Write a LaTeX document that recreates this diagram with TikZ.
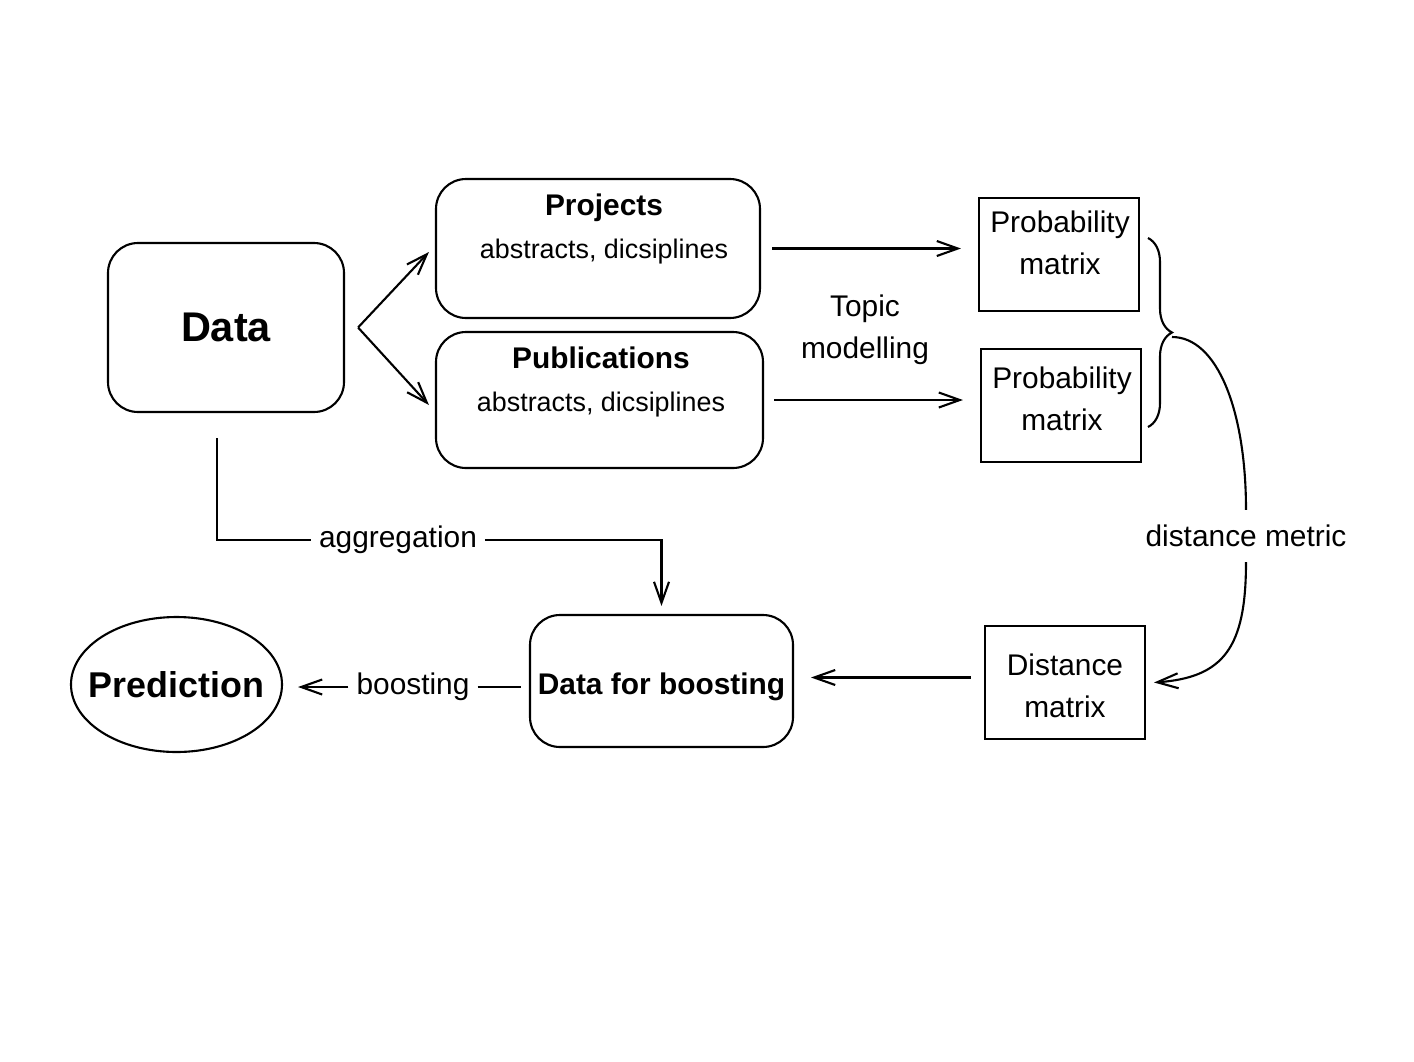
\documentclass[tikz,border=0pt]{standalone}
\usepackage{fontspec}
\setmainfont{Liberation Sans}
\usetikzlibrary{positioning,arrows.meta,decorations.pathreplacing,shapes.geometric}

\newcommand\basefont{\fontsize{17}{24}\selectfont}
\newcommand\subfont{\fontsize{15.3}{24}\selectfont}

\begin{document}
\begin{tikzpicture}[x=2cm, y=2cm, >={Straight Barb[length=0.42cm,width=0.3cm]},
  line width=1.2pt, font=\basefont,
  rbox/.style={draw, rounded corners=0.6cm},
  sbox/.style={draw, minimum width=3.2cm, minimum height=2.26cm},
  lbl/.style={inner xsep=4pt, inner ysep=1pt}]
\useasboundingbox (0,0) rectangle (14.14,-10.62);

% Input data and the two sources
\node[rbox, minimum width=4.72cm, minimum height=3.38cm, font=\fontsize{23.6}{28}\selectfont\bfseries] (data) at (2.26,-3.275) {Data};
\node[rbox, minimum width=6.48cm, minimum height=2.78cm] (proj) at (5.98,-2.485) {};
\node[align=center] (projtxt) at (6.04,-2.29) {\textbf{Projects}\\{\subfont abstracts, dicsiplines}};
\node[rbox, minimum width=6.54cm, minimum height=2.72cm] (pub) at (5.995,-4.0) {};
\node[align=center] (pubtxt) at (6.01,-3.82) {\textbf{Publications}\\{\subfont abstracts, dicsiplines}};

\coordinate (split) at ([xshift=0.26cm]data.east);
\draw[->] (split) -- ([xshift=-0.12cm,yshift=-0.07cm]proj.west);
\draw[->] (split) -- ([xshift=-0.12cm,yshift=-0.1cm]pub.west);

% Topic modelling
\node[sbox] (prob1) at (10.59,-2.545) {};
\node[align=center] (prob1txt) at (10.6,-2.43) {Probability\\matrix};
\node[sbox] (prob2) at (10.61,-4.055) {};
\node[align=center] (prob2txt) at (10.62,-3.985) {Probability\\matrix};
\node[align=center] (topic) at (8.65,-3.3) {Topic\\modelling};
\draw[->, shorten <=0.22cm, shorten >=0.34cm] (proj.east) -- (proj.east -| prob1.west);
\draw[->, shorten <=0.2cm, shorten >=0.34cm] (pub.east) -- (pub.east -| prob2.west);

% Distance between the matrices
\draw[decorate, decoration={brace, amplitude=0.48cm}] (11.48,-2.38) -- (11.48,-4.27);
\coordinate (tip) at (11.72,-3.37);
\node[sbox] (dist) at (10.65,-6.825) {};
\node[align=center] (disttxt) at (10.65,-6.86) {Distance\\matrix};
\node[lbl, inner ysep=8pt] (metric) at (12.46,-5.36) {distance metric};
\draw (tip) .. controls +(0.45,0) and +(0,1.0) .. (metric.north);
\draw[->] (metric.south) .. controls +(0,-0.85) and +(0.7,0.05) .. ([xshift=0.16cm]dist.east);

% Boosting
\node[rbox, minimum width=5.26cm, minimum height=2.64cm, text height=15pt, text depth=0pt, font=\basefont\bfseries] (boost) at (6.615,-6.81) {Data for boosting};
\node[draw, ellipse, minimum width=4.22cm, minimum height=2.7cm, font=\fontsize{20.4}{24}\selectfont\bfseries] (pred) at (1.765,-6.845) {\makebox[2cm]{Prediction}};
\draw[->, shorten <=0.26cm, shorten >=0.34cm] ([yshift=0.1cm]dist.west) -- ([yshift=0.1cm]dist.west -| boost.east);

\node[lbl] (aggr) at (3.98,-5.4) {aggregation};
\draw ([xshift=-0.18cm,yshift=-0.5cm]data.south) |- (aggr.west);
\draw[->, shorten >=0.16cm] (aggr.east) -| (boost.north);

\node[lbl] (boosting) at (4.13,-6.87) {boosting};
\draw[shorten >=0.16cm] (boosting.east) -- (boosting.east -| boost.west);
\draw[->, shorten >=0.3cm] (boosting.west) -- (boosting.west -| pred.east);

\end{tikzpicture}
\end{document}
